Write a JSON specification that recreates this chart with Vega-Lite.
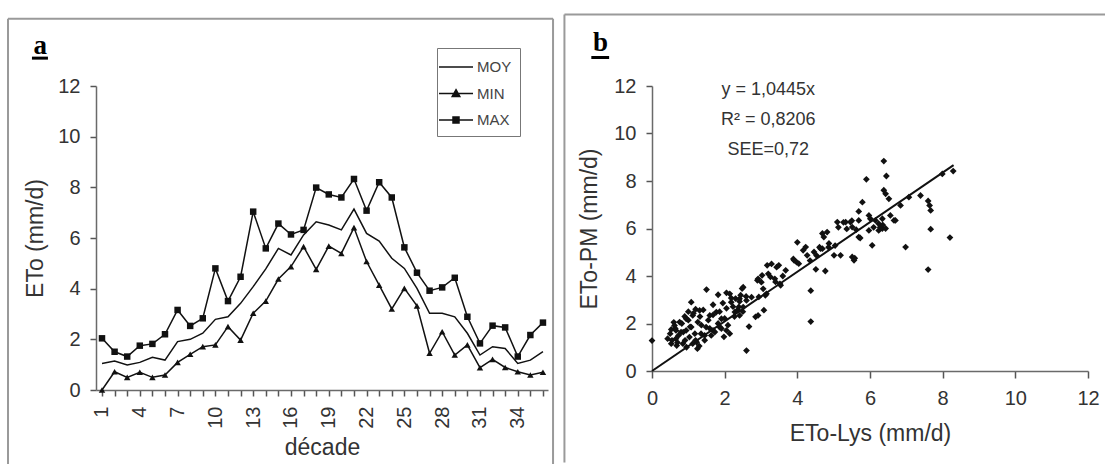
{
  "$schema": "https://vega.github.io/schema/vega-lite/v6.json",
  "padding": {"left": 7, "top": 13, "right": 0, "bottom": 0},
  "background": "white",
  "spacing": 8,
  "config": {
    "view": {"stroke": null},
    "font": "Liberation Sans",
    "axis": {
      "grid": false, "domainColor": "#6a6a6a", "domainWidth": 1.5,
      "labelFontSize": 20, "labelColor": "#333", "titleFontSize": 23, "titleFontWeight": "normal", "titleColor": "#333",
      "labelFlush": false, "labelBound": false
    }
  },
  "datasets": {
    "eto": [
      {"decade": 1, "MOY": 1.05, "MIN": 0, "MAX": 2.04},
      {"decade": 2, "MOY": 1.14, "MIN": 0.72, "MAX": 1.51},
      {"decade": 3, "MOY": 0.99, "MIN": 0.5, "MAX": 1.32},
      {"decade": 4, "MOY": 1.09, "MIN": 0.7, "MAX": 1.75},
      {"decade": 5, "MOY": 1.29, "MIN": 0.5, "MAX": 1.82},
      {"decade": 6, "MOY": 1.18, "MIN": 0.59, "MAX": 2.2},
      {"decade": 7, "MOY": 1.91, "MIN": 1.09, "MAX": 3.16},
      {"decade": 8, "MOY": 2.0, "MIN": 1.41, "MAX": 2.53},
      {"decade": 9, "MOY": 2.24, "MIN": 1.71, "MAX": 2.83},
      {"decade": 10, "MOY": 2.79, "MIN": 1.78, "MAX": 4.8},
      {"decade": 11, "MOY": 2.89, "MIN": 2.5, "MAX": 3.51},
      {"decade": 12, "MOY": 3.42, "MIN": 1.97, "MAX": 4.47},
      {"decade": 13, "MOY": 4.08, "MIN": 3.03, "MAX": 7.04},
      {"decade": 14, "MOY": 4.78, "MIN": 3.51, "MAX": 5.59},
      {"decade": 15, "MOY": 5.59, "MIN": 4.38, "MAX": 6.57},
      {"decade": 16, "MOY": 5.33, "MIN": 4.87, "MAX": 6.14},
      {"decade": 17, "MOY": 6.12, "MIN": 5.66, "MAX": 6.32},
      {"decade": 18, "MOY": 6.64, "MIN": 4.76, "MAX": 7.99},
      {"decade": 19, "MOY": 6.51, "MIN": 5.68, "MAX": 7.72},
      {"decade": 20, "MOY": 6.32, "MIN": 5.39, "MAX": 7.6},
      {"decade": 21, "MOY": 7.14, "MIN": 6.41, "MAX": 8.33},
      {"decade": 22, "MOY": 6.18, "MIN": 5.07, "MAX": 7.08},
      {"decade": 23, "MOY": 5.88, "MIN": 4.14, "MAX": 8.2},
      {"decade": 24, "MOY": 5.2, "MIN": 3.2, "MAX": 7.6},
      {"decade": 25, "MOY": 4.8, "MIN": 4.01, "MAX": 5.63},
      {"decade": 26, "MOY": 4.01, "MIN": 3.32, "MAX": 4.63},
      {"decade": 27, "MOY": 3.03, "MIN": 1.45, "MAX": 3.92},
      {"decade": 28, "MOY": 3.03, "MIN": 2.3, "MAX": 4.05},
      {"decade": 29, "MOY": 2.89, "MIN": 1.38, "MAX": 4.43},
      {"decade": 30, "MOY": 2.24, "MIN": 1.78, "MAX": 2.89},
      {"decade": 31, "MOY": 1.38, "MIN": 0.88, "MAX": 1.84},
      {"decade": 32, "MOY": 1.71, "MIN": 1.21, "MAX": 2.54},
      {"decade": 33, "MOY": 1.64, "MIN": 0.89, "MAX": 2.47},
      {"decade": 34, "MOY": 1.05, "MIN": 0.72, "MAX": 1.32},
      {"decade": 35, "MOY": 1.18, "MIN": 0.59, "MAX": 2.17},
      {"decade": 36, "MOY": 1.51, "MIN": 0.7, "MAX": 2.66}
    ],
    "scatter": [
      {"lys": 0, "pm": 1.28}, {"lys": 0.43, "pm": 1.36}, {"lys": 0.5, "pm": 1.57}, {"lys": 0.53, "pm": 1.15}, {"lys": 0.55, "pm": 1.29},
      {"lys": 0.53, "pm": 1.75}, {"lys": 0.6, "pm": 2.05}, {"lys": 0.62, "pm": 1.92}, {"lys": 0.64, "pm": 1.79}, {"lys": 0.66, "pm": 1.36},
      {"lys": 0.66, "pm": 1.71}, {"lys": 0.68, "pm": 1.07}, {"lys": 0.7, "pm": 1.2}, {"lys": 0.73, "pm": 1.5}, {"lys": 0.76, "pm": 2.06},
      {"lys": 0.8, "pm": 1.64}, {"lys": 0.82, "pm": 2.0}, {"lys": 0.85, "pm": 1.15}, {"lys": 0.86, "pm": 1.64}, {"lys": 0.9, "pm": 2.3},
      {"lys": 0.91, "pm": 1.29}, {"lys": 0.94, "pm": 2.2}, {"lys": 0.94, "pm": 1.71}, {"lys": 0.95, "pm": 1.0}, {"lys": 1.0, "pm": 2.14},
      {"lys": 1.0, "pm": 2.5}, {"lys": 1.03, "pm": 1.43}, {"lys": 1.05, "pm": 1.86}, {"lys": 1.08, "pm": 1.85}, {"lys": 1.08, "pm": 2.9},
      {"lys": 1.12, "pm": 2.34}, {"lys": 1.12, "pm": 1.15}, {"lys": 1.14, "pm": 2.43}, {"lys": 1.18, "pm": 1.57}, {"lys": 1.2, "pm": 1.29},
      {"lys": 1.2, "pm": 2.6}, {"lys": 1.23, "pm": 1.21}, {"lys": 1.25, "pm": 0.94}, {"lys": 1.26, "pm": 2.06}, {"lys": 1.3, "pm": 1.05},
      {"lys": 1.31, "pm": 2.55}, {"lys": 1.32, "pm": 2.29}, {"lys": 1.35, "pm": 1.57}, {"lys": 1.36, "pm": 1.93}, {"lys": 1.41, "pm": 2.57},
      {"lys": 1.45, "pm": 1.5}, {"lys": 1.45, "pm": 1.29}, {"lys": 1.49, "pm": 1.85}, {"lys": 1.5, "pm": 3.43}, {"lys": 1.55, "pm": 2.14},
      {"lys": 1.59, "pm": 1.79}, {"lys": 1.59, "pm": 2.34}, {"lys": 1.63, "pm": 1.5}, {"lys": 1.68, "pm": 2.36}, {"lys": 1.68, "pm": 1.71},
      {"lys": 1.68, "pm": 2.79}, {"lys": 1.73, "pm": 1.64}, {"lys": 1.77, "pm": 2.48}, {"lys": 1.82, "pm": 2.0}, {"lys": 1.82, "pm": 3.21},
      {"lys": 1.86, "pm": 2.5}, {"lys": 1.86, "pm": 1.85}, {"lys": 1.91, "pm": 1.79}, {"lys": 1.91, "pm": 2.2}, {"lys": 1.95, "pm": 2.86},
      {"lys": 2.0, "pm": 2.21}, {"lys": 1.98, "pm": 1.44}, {"lys": 2.05, "pm": 1.71}, {"lys": 2.05, "pm": 2.64}, {"lys": 2.05, "pm": 3.29},
      {"lys": 2.09, "pm": 1.93}, {"lys": 2.14, "pm": 1.57}, {"lys": 2.14, "pm": 3.25}, {"lys": 2.18, "pm": 2.9}, {"lys": 2.18, "pm": 3.07},
      {"lys": 2.23, "pm": 2.71}, {"lys": 2.27, "pm": 2.29}, {"lys": 2.28, "pm": 2.48}, {"lys": 2.3, "pm": 3.05}, {"lys": 2.36, "pm": 2.57},
      {"lys": 2.39, "pm": 2.7}, {"lys": 2.41, "pm": 2.93}, {"lys": 2.41, "pm": 3.04}, {"lys": 2.41, "pm": 2.34}, {"lys": 2.44, "pm": 3.19},
      {"lys": 2.48, "pm": 3.47}, {"lys": 2.5, "pm": 2.5}, {"lys": 2.51, "pm": 3.53}, {"lys": 2.51, "pm": 2.69}, {"lys": 2.59, "pm": 3.14},
      {"lys": 2.6, "pm": 2.97}, {"lys": 2.6, "pm": 0.86}, {"lys": 2.67, "pm": 1.87}, {"lys": 2.74, "pm": 3.11}, {"lys": 2.85, "pm": 2.28},
      {"lys": 2.9, "pm": 3.82}, {"lys": 2.92, "pm": 3.88}, {"lys": 2.92, "pm": 2.34}, {"lys": 2.94, "pm": 3.12}, {"lys": 3.01, "pm": 3.74},
      {"lys": 3.03, "pm": 4.03}, {"lys": 3.06, "pm": 3.46}, {"lys": 3.08, "pm": 2.56}, {"lys": 3.12, "pm": 3.19}, {"lys": 3.15, "pm": 3.25},
      {"lys": 3.17, "pm": 4.45}, {"lys": 3.2, "pm": 4.09}, {"lys": 3.26, "pm": 3.96}, {"lys": 3.29, "pm": 4.51}, {"lys": 3.38, "pm": 3.88},
      {"lys": 3.4, "pm": 3.75}, {"lys": 3.43, "pm": 4.37}, {"lys": 3.49, "pm": 4.45}, {"lys": 3.52, "pm": 3.67}, {"lys": 3.54, "pm": 3.61},
      {"lys": 3.6, "pm": 4.0}, {"lys": 3.68, "pm": 4.24}, {"lys": 3.89, "pm": 4.72}, {"lys": 3.91, "pm": 4.66}, {"lys": 3.98, "pm": 4.58},
      {"lys": 4.0, "pm": 5.42}, {"lys": 4.04, "pm": 4.52}, {"lys": 4.16, "pm": 5.08}, {"lys": 4.23, "pm": 5.22}, {"lys": 4.27, "pm": 4.87},
      {"lys": 4.35, "pm": 4.65}, {"lys": 4.37, "pm": 2.08}, {"lys": 4.37, "pm": 3.38}, {"lys": 4.46, "pm": 5.01}, {"lys": 4.51, "pm": 4.28},
      {"lys": 4.53, "pm": 4.86}, {"lys": 4.61, "pm": 5.21}, {"lys": 4.64, "pm": 5.15}, {"lys": 4.69, "pm": 5.15}, {"lys": 4.69, "pm": 5.79},
      {"lys": 4.73, "pm": 5.64}, {"lys": 4.77, "pm": 4.21}, {"lys": 4.82, "pm": 5.85}, {"lys": 4.86, "pm": 5.21}, {"lys": 4.87, "pm": 5.37},
      {"lys": 5.01, "pm": 4.87}, {"lys": 5.04, "pm": 5.28}, {"lys": 5.1, "pm": 6.27}, {"lys": 5.13, "pm": 6.05}, {"lys": 5.19, "pm": 4.87},
      {"lys": 5.27, "pm": 6.26}, {"lys": 5.33, "pm": 6.27}, {"lys": 5.36, "pm": 5.98}, {"lys": 5.46, "pm": 6.27}, {"lys": 5.5, "pm": 6.33},
      {"lys": 5.51, "pm": 6.06}, {"lys": 5.51, "pm": 4.8}, {"lys": 5.56, "pm": 4.66}, {"lys": 5.58, "pm": 4.75}, {"lys": 5.62, "pm": 5.95},
      {"lys": 5.69, "pm": 5.64}, {"lys": 5.69, "pm": 6.34}, {"lys": 5.69, "pm": 6.72}, {"lys": 5.73, "pm": 5.6}, {"lys": 5.79, "pm": 7.11},
      {"lys": 5.9, "pm": 8.07}, {"lys": 5.97, "pm": 5.92}, {"lys": 5.97, "pm": 6.55}, {"lys": 6.01, "pm": 6.41}, {"lys": 6.06, "pm": 5.29},
      {"lys": 6.1, "pm": 6.05}, {"lys": 6.15, "pm": 6.34}, {"lys": 6.24, "pm": 6.2}, {"lys": 6.24, "pm": 5.92}, {"lys": 6.28, "pm": 6.05},
      {"lys": 6.34, "pm": 6.0}, {"lys": 6.34, "pm": 6.41}, {"lys": 6.35, "pm": 6.15}, {"lys": 6.38, "pm": 8.84}, {"lys": 6.38, "pm": 7.61},
      {"lys": 6.43, "pm": 7.46}, {"lys": 6.43, "pm": 6.0}, {"lys": 6.45, "pm": 8.21}, {"lys": 6.52, "pm": 7.25}, {"lys": 6.56, "pm": 6.55},
      {"lys": 6.66, "pm": 6.34}, {"lys": 6.7, "pm": 6.34}, {"lys": 6.84, "pm": 6.97}, {"lys": 6.98, "pm": 5.22}, {"lys": 7.07, "pm": 7.32},
      {"lys": 7.39, "pm": 7.39}, {"lys": 7.6, "pm": 7.16}, {"lys": 7.64, "pm": 6.97}, {"lys": 7.67, "pm": 6.76}, {"lys": 7.67, "pm": 5.97},
      {"lys": 7.6, "pm": 4.27}, {"lys": 7.99, "pm": 8.3}, {"lys": 8.2, "pm": 5.62}, {"lys": 8.29, "pm": 8.42}
    ],
    "fit": [
      {"lys": 0, "pm": 0},
      {"lys": 8.3, "pm": 8.67}
    ]
  },
  "hconcat": [
    {
      "width": 452,
      "height": 304,
      "layer": [
        {
          "data": {"name": "eto"},
          "transform": [{"fold": ["MOY", "MIN", "MAX"], "as": ["series", "value"]}],
          "mark": {"type": "line", "strokeWidth": 1.5},
          "encoding": {
            "x": {
              "field": "decade", "type": "quantitative",
              "scale": {"domain": [0.524, 36.4], "nice": false, "zero": false},
              "axis": {
                "title": "décade",
                "values": [1,2,3,4,5,6,7,8,9,10,11,12,13,14,15,16,17,18,19,20,21,22,23,24,25,26,27,28,29,30,31,32,33,34,35,36],
                "tickCount": 40,
                "labelExpr": "(datum.value - 1) % 3 == 0 ? datum.label : ''",
                "labelAngle": 270, "labelPadding": 10, "titlePadding": 8,
                "labelOverlap": false, "ticks": true, "tickSize": 6, "tickColor": "#555555", "tickWidth": 1.5, "tickOpacity": 1
              }
            },
            "y": {
              "field": "value", "type": "quantitative",
              "scale": {"domain": [0, 12], "nice": false},
              "axis": {"title": "ETo (mm/d)", "values": [0, 2, 4, 6, 8, 10, 12], "tickCount": 10, "labelPadding": 10, "titlePadding": 10, "labelOverlap": false, "ticks": true, "tickSize": 6, "tickColor": "#555555", "tickWidth": 1.5, "tickOpacity": 1}
            },
            "color": {
              "field": "series", "type": "nominal",
              "scale": {"domain": ["MOY", "MIN", "MAX"], "range": ["#111111", "#111111", "#111111"]},
              "legend": {
                "title": null, "orient": "none", "legendX": 341, "legendY": -38,
                "strokeColor": "#777777", "fillColor": "white", "padding": 8, "rowPadding": 7.5,
                "labelOffset": 10, "labelFontSize": 15, "labelColor": "#444444", "symbolSize": 400,
                "encode": {
                  "symbols": {
                    "update": {
                      "shape": {"signal": "datum.value == 'MIN' ? 'M-1.7,0H1.7M0,-0.38L0.38,0.3L-0.38,0.3Z' : datum.value == 'MAX' ? 'M-1.7,0H1.7M-0.3,-0.3H0.3V0.3H-0.3Z' : 'M-1.7,0H1.7'"},
                      "fill": {"value": "#111111"},
                      "stroke": {"value": "#111111"},
                      "strokeWidth": {"value": 1.5},
                      "opacity": {"value": 1}
                    }
                  }
                }
              }
            }
          }
        },
        {
          "data": {"name": "eto"},
          "transform": [{"fold": ["MIN", "MAX"], "as": ["series", "value"]}],
          "mark": {"type": "point", "filled": true, "opacity": 1, "size": 42, "color": "#111111"},
          "encoding": {
            "x": {"field": "decade", "type": "quantitative"},
            "y": {"field": "value", "type": "quantitative"},
            "shape": {
              "field": "series", "type": "nominal",
              "scale": {"domain": ["MIN", "MAX"], "range": ["triangle-up", "square"]},
              "legend": null
            }
          }
        },
        {
          "data": {"values": [{}]},
          "mark": {"type": "rule", "color": "#9a9a9a", "strokeWidth": 2},
          "encoding": {"x": {"datum": -6.46}, "y": {"datum": -3.1}, "y2": {"datum": 14.65}}
        },
        {
          "data": {"values": [{}]},
          "mark": {"type": "rule", "color": "#9a9a9a", "strokeWidth": 2},
          "encoding": {"x": {"datum": -6.46}, "x2": {"datum": 36.8}, "y": {"datum": 14.65}}
        },
        {
          "data": {"values": [{}]},
          "mark": {"type": "rule", "color": "#9a9a9a", "strokeWidth": 2},
          "encoding": {"x": {"datum": 36.8}, "y": {"datum": -3.1}, "y2": {"datum": 14.65}}
        },
        {
          "data": {"values": [{"t": "a"}]},
          "mark": {"type": "text", "font": "Liberation Serif", "fontWeight": "bold", "fontSize": 27, "align": "center", "baseline": "alphabetic", "color": "#000000"},
          "encoding": {"x": {"datum": -3.9}, "y": {"datum": 13.26}, "text": {"field": "t"}}
        },
        {
          "data": {"values": [{}]},
          "mark": {"type": "rule", "color": "#000000", "strokeWidth": 3},
          "encoding": {"x": {"datum": -4.56}, "x2": {"datum": -3.29}, "y": {"datum": 13.1}}
        }
      ]
    },
    {
      "width": 436,
      "height": 285,
      "layer": [
        {
          "data": {"name": "scatter"},
          "mark": {"type": "point", "shape": "diamond", "filled": true, "opacity": 1, "size": 46, "color": "#111111"},
          "encoding": {
            "x": {
              "field": "lys", "type": "quantitative",
              "scale": {"domain": [0, 12], "nice": false},
              "axis": {"title": "ETo-Lys (mm/d)", "values": [0, 2, 4, 6, 8, 10, 12], "tickCount": 10, "labelPadding": 10, "titlePadding": 14, "labelOverlap": false, "ticks": true, "tickSize": 7, "tickColor": "#555555", "tickWidth": 1.5, "tickOpacity": 1}
            },
            "y": {
              "field": "pm", "type": "quantitative",
              "scale": {"domain": [0, 12], "nice": false},
              "axis": {"title": "ETo-PM (mm/d)", "values": [0, 2, 4, 6, 8, 10, 12], "tickCount": 10, "labelPadding": 10, "titlePadding": 12, "labelOverlap": false, "ticks": true, "tickSize": 6, "tickColor": "#555555", "tickWidth": 1.5, "tickOpacity": 1}
            }
          }
        },
        {
          "data": {"name": "fit"},
          "mark": {"type": "line", "color": "#111111", "strokeWidth": 2},
          "encoding": {
            "x": {"field": "lys", "type": "quantitative"},
            "y": {"field": "pm", "type": "quantitative"}
          }
        },
        {
          "data": {"values": [{}]},
          "mark": {"type": "text", "fontSize": 18, "align": "center", "baseline": "middle", "lineHeight": 30, "color": "#333333"},
          "encoding": {"x": {"datum": 3.2}, "y": {"datum": 11.82}, "text": {"value": ["y = 1,0445x", "R² = 0,8206", "SEE=0,72"]}}
        },
        {
          "data": {"values": [{}]},
          "mark": {"type": "rule", "color": "#9a9a9a", "strokeWidth": 2},
          "encoding": {"x": {"datum": -2.41}, "y": {"datum": -3.85}, "y2": {"datum": 15.015}}
        },
        {
          "data": {"values": [{}]},
          "mark": {"type": "rule", "color": "#9a9a9a", "strokeWidth": 2},
          "encoding": {"x": {"datum": -2.41}, "x2": {"datum": 12.5}, "y": {"datum": 15.015}}
        },
        {
          "data": {"values": [{"t": "b"}]},
          "mark": {"type": "text", "font": "Liberation Serif", "fontWeight": "bold", "fontSize": 27, "align": "center", "baseline": "alphabetic", "color": "#000000"},
          "encoding": {"x": {"datum": -1.42}, "y": {"datum": 13.46}, "text": {"field": "t"}}
        },
        {
          "data": {"values": [{}]},
          "mark": {"type": "rule", "color": "#000000", "strokeWidth": 3},
          "encoding": {"x": {"datum": -1.67}, "x2": {"datum": -1.18}, "y": {"datum": 13.2}}
        }
      ]
    }
  ]
}
